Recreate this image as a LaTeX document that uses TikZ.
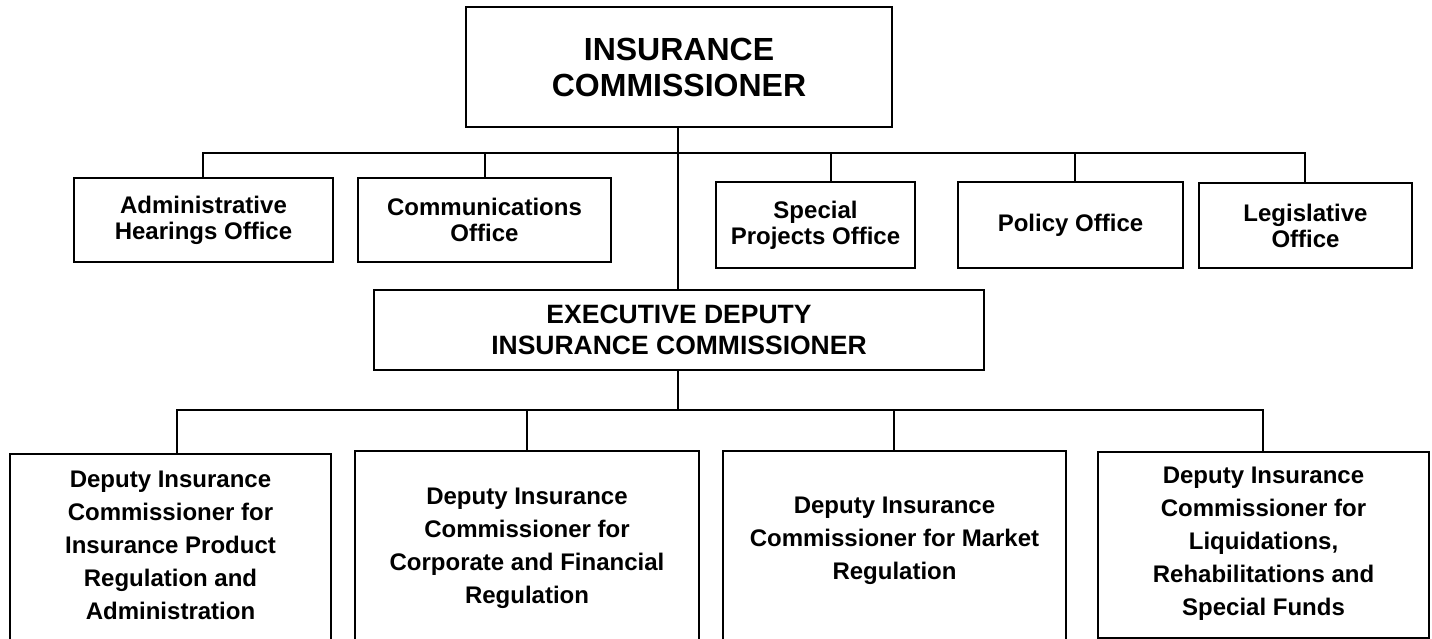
\documentclass[tikz,border=0pt]{standalone}
\usepackage{fontspec}
\setmainfont{Liberation Sans}
\begin{document}
\begin{tikzpicture}[x=1pt,y=-1pt,
  box/.style={draw,line width=2pt,inner sep=0pt,align=center,font=\bfseries},
  toptext/.style={font=\bfseries\fontsize{32}{36}\selectfont},
  exectext/.style={font=\bfseries\fontsize{26.5}{31}\selectfont},
  offtext/.style={font=\bfseries\fontsize{24}{26}\selectfont},
  deptext/.style={font=\bfseries\fontsize{24}{33}\selectfont},
  conn/.style={line width=2pt}]
\useasboundingbox (0,0) rectangle (1432,639);
\clip (0,0) rectangle (1432,639);
% top
\node[box,toptext,minimum width=426pt,minimum height=120pt] (ic) at (679,67) {INSURANCE\\COMMISSIONER};
% row 1
\node[box,offtext,minimum width=259pt,minimum height=84pt] (ah) at (203.5,220) {Administrative\\Hearings Office};
\node[box,offtext,minimum width=253pt,minimum height=84pt] (co) at (484.5,220) {Communications\\Office};
\node[box,offtext,minimum width=199pt,minimum height=86pt] (sp) at (815.5,225) {Special\\Projects Office};
\node[box,offtext,minimum width=225pt,minimum height=86pt] (po) at (1070.5,225) {Policy Office};
\node[box,offtext,minimum width=213pt,minimum height=85pt] (le) at (1305.5,225.5) {Legislative\\Office};
% exec
\node[box,exectext,minimum width=610pt,minimum height=80pt] (ex) at (679,330) {EXECUTIVE DEPUTY\\INSURANCE COMMISSIONER};
% bottom boxes
\node[box,minimum width=321pt,minimum height=195pt,anchor=north] (d1) at (170.5,453) {};
\node[box,minimum width=344pt,minimum height=198pt,anchor=north] (d2) at (527,450) {};
\node[box,minimum width=343pt,minimum height=198pt,anchor=north] (d3) at (894.5,450) {};
\node[box,minimum width=331pt,minimum height=186pt,anchor=north] (d4) at (1263.5,451) {};
\node[deptext,align=center] (t1) at (170.5,545) {Deputy Insurance\\Commissioner for\\Insurance Product\\Regulation and\\Administration};
\node[deptext,align=center] (t2) at (527,548) {Deputy Insurance\\Commissioner for\\Corporate and Financial\\Regulation};
\node[deptext,align=center] (t3) at (894.5,541) {Deputy Insurance\\Commissioner for Market\\Regulation};
\node[deptext,align=center] (t4) at (1263.5,544) {Deputy Insurance\\Commissioner for\\Liquidations,\\Rehabilitations and\\Special Funds};
% connectors
\coordinate (bar1) at (678,153);
\coordinate (bar2) at (678,410);
\draw[conn] (ic.south -| bar1) -- (ex.north -| bar1);
\draw[conn] (ex.south -| bar2) -- (bar2);
\draw[conn] (ah.north -| 203,0) |- (bar1) -| (le.north -| 1305,0);
\draw[conn] (co.north -| 485,0) -- (bar1 -| 485,0);
\draw[conn] (sp.north -| 831,0) -- (bar1 -| 831,0);
\draw[conn] (po.north -| 1075,0) -- (bar1 -| 1075,0);
\draw[conn] (d1.north -| 177,0) |- (bar2) -| (d4.north -| 1263,0);
\draw[conn] (d2.north -| 527,0) -- (bar2 -| 527,0);
\draw[conn] (d3.north -| 894,0) -- (bar2 -| 894,0);
\end{tikzpicture}
\end{document}
